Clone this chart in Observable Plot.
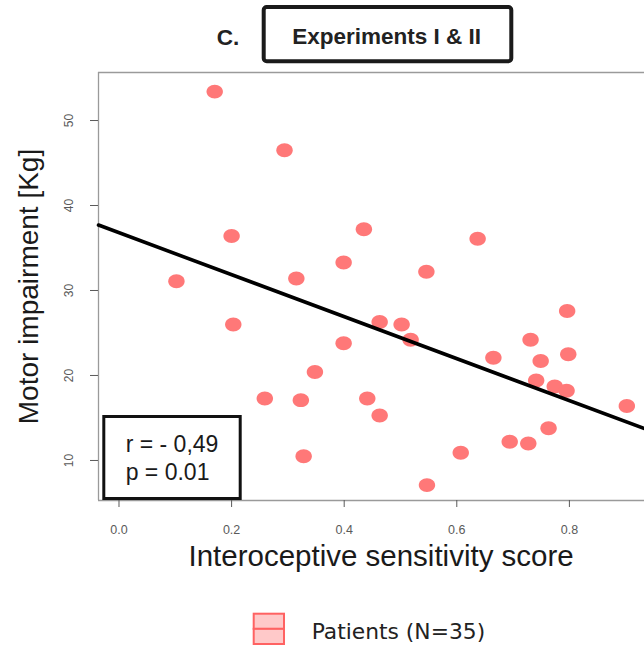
<!DOCTYPE html>
<html>
<head>
<meta charset="utf-8">
<script src="https://cdn.jsdelivr.net/npm/d3@7"></script>
<script src="https://cdn.jsdelivr.net/npm/@observablehq/plot@0.6"></script>
<style>
  html, body { margin: 0; padding: 0; background: #fff; }
  #chart { width: 644px; height: 650px; overflow: hidden; }
</style>
</head>
<body>
<div id="chart"></div>
<script>
// Interoceptive sensitivity score (x) and motor impairment in kg (y), one entry per patient
const sensitivity = [0.170, 0.294, 0.200, 0.435, 0.399, 0.315, 0.102, 0.637, 0.546,
                     0.203, 0.399, 0.348, 0.259, 0.323, 0.441, 0.463, 0.328,
                     0.463, 0.502, 0.518, 0.796, 0.731, 0.665, 0.749, 0.798, 0.741,
                     0.774, 0.795, 0.902, 0.763, 0.694, 0.727, 0.607, 0.547];
const impairment = [53.4, 46.5, 36.4, 37.2, 33.3, 31.4, 31.1, 36.1, 32.2,
                    26.0, 23.8, 20.4, 17.3, 17.1, 17.3, 15.3, 10.5,
                    26.3, 26.0, 24.2, 27.6, 24.2, 22.1, 21.7, 22.5, 19.4,
                    18.7, 18.2, 16.4, 13.8, 12.2, 12.0, 10.9, 7.1];

// Least-squares fit reported for the full sample
const fitIntercept = 36.8;
const fitSlope = -24.7;
const statLines = ["r = - 0,49", "p = 0.01"];

// Axis ticks and visible ranges
const xTicks = [0, 0.2, 0.4, 0.6, 0.8];
const yTicks = [10, 20, 30, 40, 50];
const xDomain = [-0.0364, 0.9334];
const yDomain = [5.29, 55.65];

const panelLetter = "C.";
const panelTitle = "Experiments I & II";
const legendLabel = "Patients (N=35)";

const points = sensitivity.map((x, i) => ({x, y: impairment[i]}));
const fitLine = xDomain.map(x => ({x, y: fitIntercept + fitSlope * x}));

// Slightly wide oval marker
const oval = {
  draw(ctx, size) {
    const r = Math.sqrt(size / Math.PI);
    const rx = r * 1.08, ry = r * 0.92, k = 0.5523;
    ctx.moveTo(rx, 0);
    ctx.bezierCurveTo(rx, ry * k, rx * k, ry, 0, ry);
    ctx.bezierCurveTo(-rx * k, ry, -rx, ry * k, -rx, 0);
    ctx.bezierCurveTo(-rx, -ry * k, -rx * k, -ry, 0, -ry);
    ctx.bezierCurveTo(rx * k, -ry, rx, -ry * k, rx, 0);
    ctx.closePath();
  }
};

const frameColor = "#9a9a9a";

const plot = Plot.plot({
  width: 644,
  height: 650,
  marginLeft: 98,
  marginRight: 0,
  marginTop: 72,
  marginBottom: 150,
  style: {fontFamily: "'Liberation Sans', Arial, sans-serif", background: "#fff"},
  x: {domain: xDomain},
  y: {domain: yDomain},
  marks: [
    Plot.ruleY([yDomain[1]], {stroke: frameColor, strokeWidth: 1.3}),
    Plot.ruleY([yDomain[0]], {stroke: frameColor, strokeWidth: 1.3}),
    Plot.ruleX([xDomain[0]], {stroke: frameColor, strokeWidth: 1.3}),
    Plot.axisX({ticks: xTicks, tickFormat: d3.format(".1f"), tickSize: 7, tickPadding: 18,
                fontSize: 12.5, color: "#5a5a5a", label: null}),
    Plot.axisY({ticks: yTicks, tickSize: 8, tickRotate: -90, tickPadding: 18,
                fontSize: 12, color: "#5a5a5a", label: null}),
    Plot.dot(points, {x: "x", y: "y", r: 7.6, symbol: oval, fill: "#ff7878", stroke: "none"}),
    Plot.line(fitLine, {x: "x", y: "y", stroke: "#000", strokeWidth: 3.6}),
    Plot.text(["Interoceptive sensitivity score"], {frameAnchor: "bottom", lineAnchor: "bottom",
              textAnchor: "middle", dx: 9.6, dy: 65.5, fontSize: 29.5, fill: "#1a1a1a"}),
    Plot.text(["Motor impairment [Kg]"], {frameAnchor: "left", lineAnchor: "bottom", rotate: -90,
              textAnchor: "middle", dx: -61, fontSize: 28, fill: "#1a1a1a"})
  ]
});

const svg = d3.select(plot);

// Panel heading
svg.append("text")
  .attr("x", 216.7).attr("y", 44.5).attr("text-anchor", "start")
  .attr("font-size", 22.5).attr("font-weight", "bold").attr("fill", "#222")
  .text(panelLetter);
svg.append("rect")
  .attr("x", 263.7).attr("y", 7).attr("width", 247.6).attr("height", 54.3).attr("rx", 3)
  .attr("fill", "#fff").attr("stroke", "#1a1a1a").attr("stroke-width", 4);
svg.append("text")
  .attr("x", 386.7).attr("y", 43.5).attr("text-anchor", "middle")
  .attr("font-size", 22.5).attr("font-weight", "bold").attr("fill", "#222")
  .text(panelTitle);

// Correlation box
svg.append("rect")
  .attr("x", 103.8).attr("y", 416.5).attr("width", 136.4).attr("height", 82)
  .attr("fill", "#fff").attr("stroke", "#111").attr("stroke-width", 3);
svg.append("g").selectAll("text").data(statLines).join("text")
  .attr("x", 125.7).attr("y", (d, i) => 452.3 + i * 27.7).attr("text-anchor", "start")
  .attr("font-size", 23).attr("fill", "#1a1a1a")
  .text(d => d);

// Legend
const key = svg.append("g");
key.append("rect").attr("x", 253.7).attr("y", 613.7).attr("width", 30.3).attr("height", 15.15)
  .attr("fill", "#ffc9c9").attr("stroke", "#ff6262").attr("stroke-width", 2);
key.append("rect").attr("x", 253.7).attr("y", 628.85).attr("width", 30.3).attr("height", 15.15)
  .attr("fill", "#ffc9c9").attr("stroke", "#ff6262").attr("stroke-width", 2);
key.append("text")
  .attr("x", 311.7).attr("y", 639.3).attr("text-anchor", "start")
  .attr("font-family", "'DejaVu Sans', Verdana, sans-serif")
  .attr("font-size", 21.8).attr("fill", "#222")
  .text(legendLabel);

document.getElementById("chart").append(plot);
</script>
</body>
</html>
